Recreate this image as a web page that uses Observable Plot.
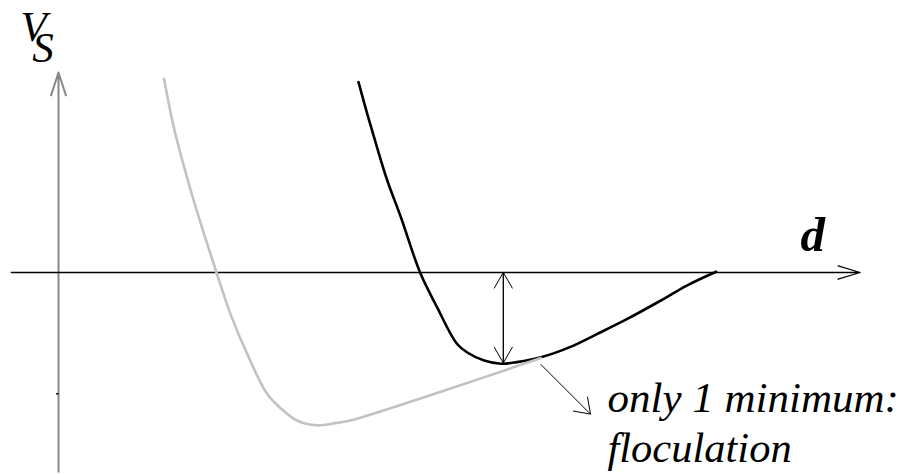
<!DOCTYPE html>
<html>
<head>
<meta charset="utf-8">
<script src="https://cdn.jsdelivr.net/npm/d3@7"></script>
<script src="https://cdn.jsdelivr.net/npm/@observablehq/plot@0.6"></script>
<style>
  html, body { margin: 0; padding: 0; background: #fff; }
  svg { display: block; }
</style>
</head>
<body>
<div id="chart"></div>
<script>
// Interaction potential V_S against separation d (arbitrary units)

// Weaker barrier: single deep minimum (gray)
const grayD = [1.32, 1.44, 1.57, 1.69, 1.82, 1.975, 2.15, 2.36, 2.61, 2.78, 2.98, 3.23, 3.48, 3.65, 4.78, 6.03];
const grayV = [2.42, 1.82, 1.32, 0.90, 0.48, 0.0, -0.52, -1.02, -1.52, -1.70, -1.85, -1.91, -1.88, -1.85, -1.49, -1.07];

// Stronger repulsion: shallow minimum (black)
const blackD = [3.75, 3.86, 3.98, 4.11, 4.28, 4.52, 4.73, 4.98, 5.11, 5.32, 5.53, 5.73, 6.03, 6.40, 6.73, 7.11, 7.53, 7.86, 8.22];
const blackV = [2.38, 1.98, 1.57, 1.15, 0.69, 0.0, -0.43, -0.89, -1.0, -1.10, -1.14, -1.12, -1.06, -0.93, -0.77, -0.58, -0.35, -0.16, 0.01];

// Axis extents
const dAxis = [-0.59, 10.02];
const vAxis = [-2.49, 2.5];
const vTick = -1.516;

// Depth of the minimum and the pointer to the annotation
const depthD = 5.56;
const depthV = [0, -1.13];
const pointer = {d1: 6.03, v1: -1.15, d2: 6.65, v2: -1.77};

// Labels
const labelV = "V";
const labelS = "S";
const labelDist = "d";
const noteLines = ["only 1 minimum:", "floculation"];

const gray = d3.zip(grayD, grayV).map(([d, v]) => ({d, v}));
const black = d3.zip(blackD, blackV).map(([d, v]) => ({d, v}));

const textStyle = {textAnchor: "start", lineAnchor: "bottom", fontFamily: "Liberation Serif", fontStyle: "italic", fill: "#000"};

const chart = Plot.plot({
  width: 900,
  height: 474,
  margin: 0,
  x: {domain: [-0.725, 10.525], axis: null},
  y: {domain: [-2.525, 3.4], axis: null},
  style: {background: "#fff"},
  marks: [
    // vertical axis with arrow
    Plot.arrow([0], {x1: 0, x2: 0, y1: vAxis[0], y2: vAxis[1], stroke: "#888", strokeWidth: 2, headAngle: 36, headLength: 18}),
    Plot.link([0], {x1: -0.03, x2: 0, y1: vTick, y2: vTick, stroke: "#000", strokeWidth: 1.5}),
    // horizontal axis with arrow
    Plot.arrow([0], {x1: dAxis[0], x2: dAxis[1], y1: 0, y2: 0, stroke: "#000", strokeWidth: 1.3, headAngle: 34, headLength: 26.5}),
    // curves
    Plot.line(black, {x: "d", y: "v", curve: "catmull-rom", stroke: "#000", strokeWidth: 2.6}),
    Plot.line(gray, {x: "d", y: "v", curve: "catmull-rom", stroke: "#c2c2c2", strokeWidth: 2.6}),
    // depth of the minimum (double-headed)
    Plot.arrow([0], {x1: depthD, x2: depthD, y1: depthV[1], y2: depthV[0], stroke: "#000", strokeWidth: 1, headAngle: 60, headLength: 27}),
    Plot.arrow([0], {x1: depthD, x2: depthD, y1: depthV[0], y2: depthV[1], stroke: "#000", strokeWidth: 1, headAngle: 60, headLength: 27}),
    // pointer to note
    Plot.arrow([0], {x1: pointer.d1, y1: pointer.v1, x2: pointer.d2, y2: pointer.v2, stroke: "#000", strokeWidth: 1, headAngle: 70, headLength: 26}),
    // labels
    Plot.text([labelV], {...textStyle, x: -0.475, y: 2.89, text: d => d, fontSize: 43}),
    Plot.text([labelDist], {...textStyle, x: 9.275, y: 0.275, text: d => d, fontSize: 49, fontWeight: "bold"}),
    Plot.text([noteLines[0]], {...textStyle, x: 6.8625, y: -1.7375, text: d => d, fontSize: 43}),
    Plot.text([noteLines[1]], {...textStyle, x: 6.8625, y: -2.3625, text: d => d, fontSize: 42.5})
  ]
});

// Subscript S inside the V label
d3.select(chart).selectAll("text")
  .filter(function () { return this.textContent === labelV; })
  .append("tspan")
  .attr("dx", "-0.34em")
  .attr("dy", "0.47em")
  .text(labelS);

document.getElementById("chart").append(chart);
</script>
</body>
</html>
